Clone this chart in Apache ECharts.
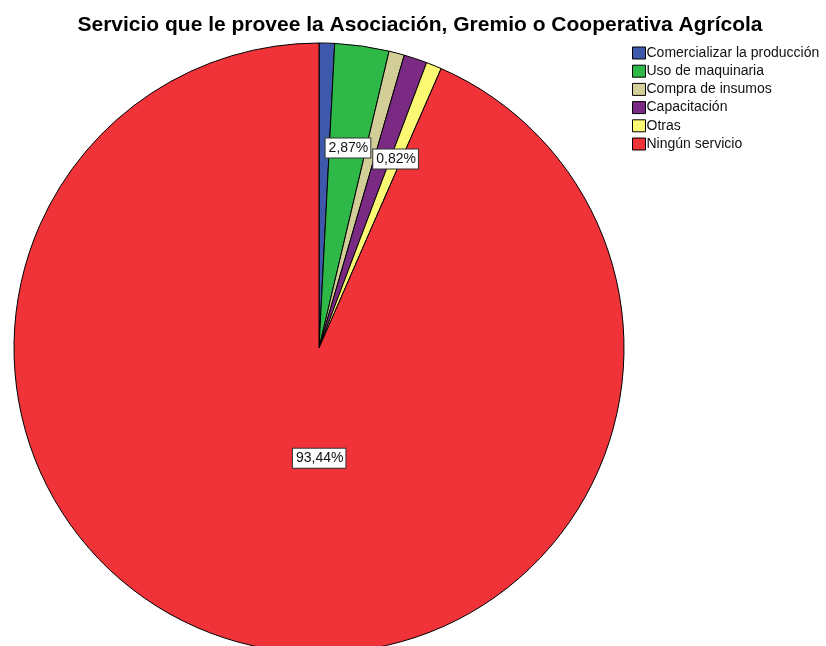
<!DOCTYPE html>
<html>
<head>
<meta charset="utf-8">
<script src="https://cdn.jsdelivr.net/npm/echarts@6/dist/echarts.min.js"></script>
<style>
html, body { margin: 0; padding: 0; background: #fff; }
#main { width: 826px; height: 646px; }
</style>
</head>
<body>
<div id="main"></div>
<script>
var categories = ['Comercializar la producción', 'Uso de maquinaria', 'Compra de insumos', 'Capacitación', 'Otras', 'Ningún servicio'];
var percents = [0.82, 2.87, 0.82, 1.23, 0.82, 93.44];
var colors = ['#3e58ac', '#2eb848', '#d3ce97', '#7b2a83', '#fbf873', '#ef3338'];
// only these slices carry a label in the original
var labelled = [false, true, false, false, true, true];
var labelShift = [[0, 0], [7, -46], [0, 0], [0, 0], [18, -45], [32, -42]];

var myChart = echarts.init(document.getElementById('main'));

var pieData = categories.map(function (name, i) {
    return {
        name: name,
        value: percents[i],
        itemStyle: { color: colors[i] },
        label: { show: labelled[i] }
    };
});

option = {
    animation: false,
    title: {
        text: 'Servicio que le provee la Asociación, Gremio o Cooperativa Agrícola',
        left: 415,
        textAlign: 'center',
        top: 10,
        textStyle: {
            fontFamily: 'Liberation Sans',
            fontSize: 21,
            fontWeight: 'bold',
            color: '#000'
        }
    },
    legend: {
        orient: 'vertical',
        left: 627,
        top: 41,
        itemWidth: 13,
        itemHeight: 12,
        itemGap: 4.2,
        icon: 'rect',
        itemStyle: { borderColor: '#000', borderWidth: 1 },
        textStyle: {
            fontFamily: 'Liberation Sans',
            fontSize: 14,
            lineHeight: 14,
            color: '#111',
            padding: [0, 0, 0, -4]
        },
        data: categories
    },
    series: [{
        type: 'pie',
        center: [319, 348],
        radius: 305,
        startAngle: 90,
        clockwise: true,
        avoidLabelOverlap: false,
        itemStyle: { borderColor: '#000', borderWidth: 1 },
        label: {
            position: 'inside',
            formatter: function (p) {
                return p.value.toFixed(2).replace('.', ',') + '%';
            },
            fontFamily: 'Liberation Sans',
            fontSize: 14,
            color: '#111',
            backgroundColor: '#fff',
            borderColor: '#333',
            borderWidth: 1,
            padding: [3, 2, 2, 3]
        },
        labelLayout: function (params) {
            var s = labelShift[params.dataIndex];
            return { dx: s[0], dy: s[1] };
        },
        emphasis: { disabled: true },
        data: pieData
    }]
};
myChart.setOption(option);
</script>
</body>
</html>
